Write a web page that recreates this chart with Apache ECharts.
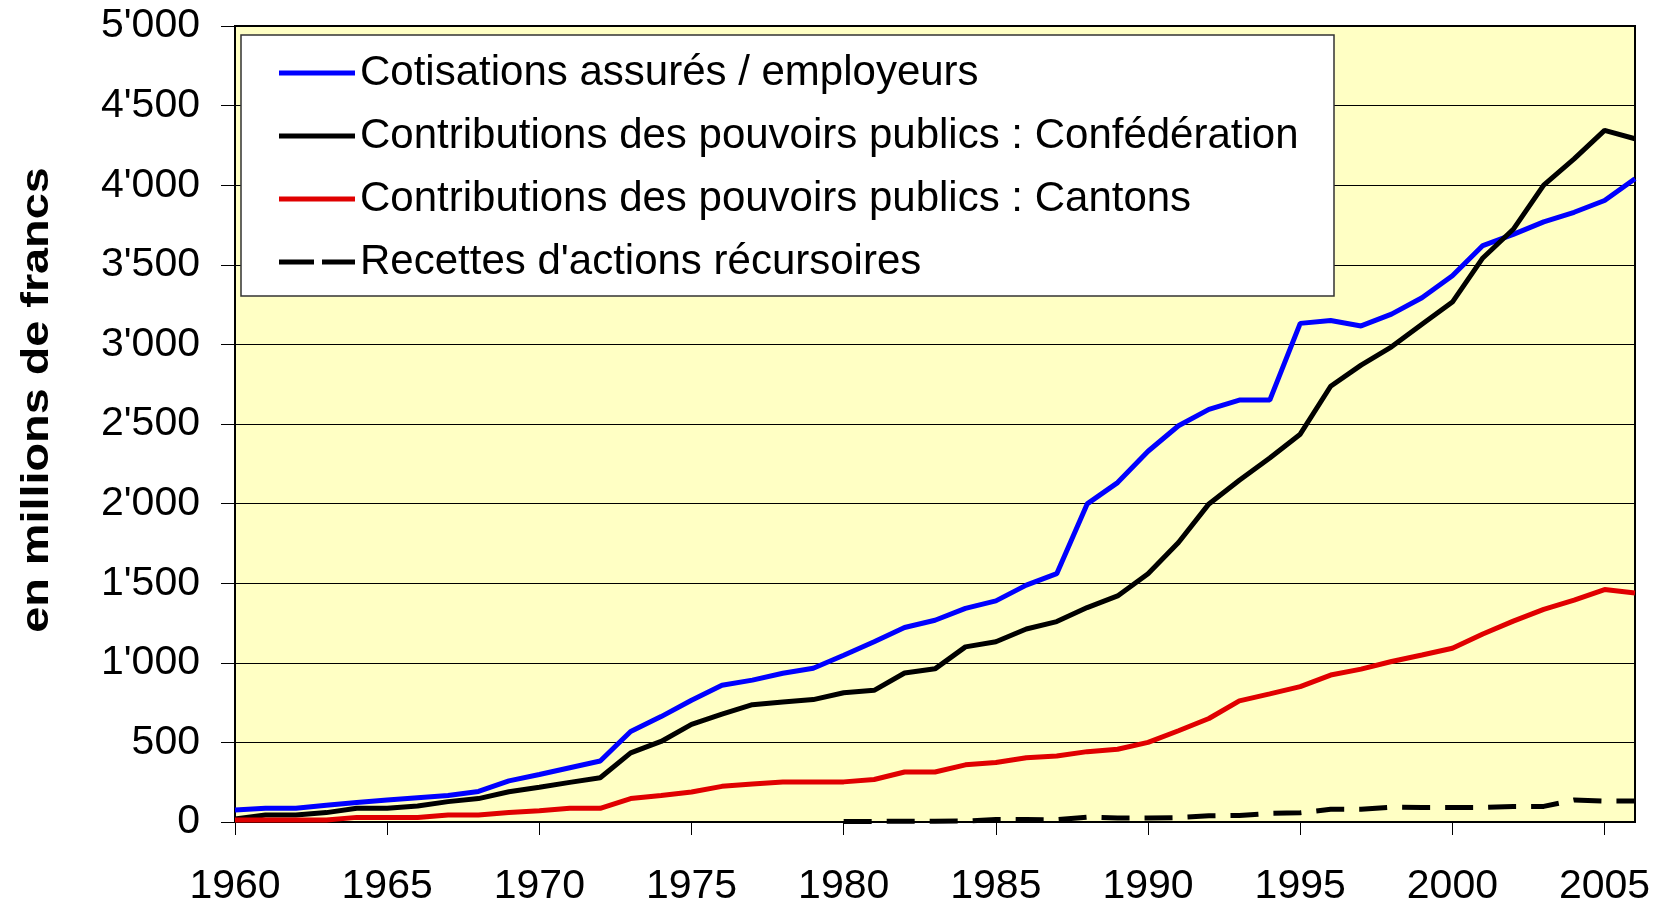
<!DOCTYPE html>
<html>
<head>
    <meta charset="utf-8">
    <title>Recettes</title>
    <script src="https://cdn.jsdelivr.net/npm/echarts@6/dist/echarts.min.js"></script>
    <style>
        html, body { margin: 0; padding: 0; background: #fff; }
        #chart { width: 1658px; height: 909px; }
    </style>
</head>
<body>
<div id="chart"></div>
<script>
    const years = [];
    for (let y = 1960; y <= 2006; y++) years.push(String(y));

    // Cotisations assurés / employeurs
    const cotisations = [75, 86, 86, 105, 122, 138, 153, 167, 192, 258,
        298, 341, 383, 568, 662, 765, 859, 891, 934, 966,
        1047, 1132, 1222, 1267, 1342, 1389, 1488, 1560, 1998, 2132,
        2329, 2489, 2592, 2650, 2650, 3132, 3150, 3116, 3190, 3293,
        3431, 3621, 3691, 3770, 3830, 3904, 4041];
    // Contributions des pouvoirs publics : Confédération
    const confederation = [19, 44, 44, 59, 86, 86, 100, 128, 147, 190,
        218, 249, 278, 434, 506, 613, 677, 737, 754, 769,
        812, 827, 936, 962, 1100, 1132, 1212, 1259, 1347, 1420,
        1560, 1756, 1998, 2147, 2286, 2436, 2737, 2870, 2985, 3127,
        3266, 3543, 3723, 4000, 4165, 4344, 4292];
    // Contributions des pouvoirs publics : Cantons
    const cantons = [13, 13, 13, 13, 29, 29, 29, 44, 44, 59,
        71, 86, 86, 147, 167, 188, 224, 239, 252, 252,
        252, 267, 314, 314, 359, 374, 404, 414, 442, 457,
        500, 573, 650, 761, 805, 850, 923, 960, 1008, 1049,
        1091, 1181, 1262, 1336, 1394, 1460, 1438];
    // Recettes d'actions récursoires (à partir de 1980)
    const recettes = [null, null, null, null, null, null, null, null, null, null,
        null, null, null, null, null, null, null, null, null, null,
        3, 4, 4, 5, 6, 16, 15, 14, 30, 25,
        25, 28, 39, 41, 54, 58, 80, 80, 93, 91,
        91, 91, 98, 98, 138, 132, 132];

    const names = [
        'Cotisations assurés / employeurs',
        'Contributions des pouvoirs publics : Confédération',
        'Contributions des pouvoirs publics : Cantons',
        "Recettes d'actions récursoires"
    ];

    const font = '"Liberation Sans", Arial, sans-serif';
    const every5 = i => i % 5 === 0;
    const fmt = v => v >= 1000 ? Math.floor(v / 1000) + "'" + String(v % 1000).padStart(3, '0') : String(v);

    const solidIcon = 'path://M0,0H76V5H0Z';
    const dashIcon = 'path://M0,0H35V5H0ZM43,0H76V5H43Z';

    const line = (name, data, color, type) => ({
        name: name,
        type: 'line',
        data: data,
        symbol: 'none',
        connectNulls: false,
        lineStyle: { color: color, width: 5, type: type || 'solid' },
        itemStyle: { color: color },
        z: 2
    });

    const chart = echarts.init(document.getElementById('chart'));
    chart.setOption({
        animation: false,
        backgroundColor: '#fff',
        grid: {
            left: 235, right: 23, top: 26, bottom: 87,
            show: true,
            backgroundColor: '#FFFFC4',
            borderColor: '#000',
            borderWidth: 2
        },
        xAxis: {
            type: 'category',
            data: years,
            boundaryGap: false,
            axisLine: { lineStyle: { color: '#000', width: 2 } },
            axisTick: { show: true, interval: every5, length: 13, lineStyle: { color: '#000', width: 1 } },
            axisLabel: { interval: every5, margin: 44, fontSize: 41, fontFamily: font, color: '#000' },
            splitLine: { show: false }
        },
        yAxis: {
            type: 'value',
            min: 0, max: 5000, interval: 500,
            axisLine: { show: true, lineStyle: { color: '#000', width: 2 } },
            axisTick: { show: true, length: 14, lineStyle: { color: '#000', width: 1 } },
            axisLabel: { margin: 35, fontSize: 41, fontFamily: font, color: '#000', formatter: fmt },
            splitLine: { show: true, lineStyle: { color: '#000', width: 1 } }
        },
        legend: {
            orient: 'vertical',
            left: 279, top: 52,
            padding: 0,
            itemWidth: 76, itemHeight: 5,
            itemGap: 21,
            z: 5,
            data: [
                { name: names[0], icon: solidIcon },
                { name: names[1], icon: solidIcon },
                { name: names[2], icon: solidIcon },
                { name: names[3], icon: dashIcon }
            ],
            textStyle: { fontSize: 42, fontFamily: font, color: '#000', lineHeight: 42 }
        },
        graphic: [
            {
                type: 'rect', z: 4,
                shape: { x: 241, y: 35, width: 1093, height: 261 },
                style: { fill: '#fff', stroke: '#333', lineWidth: 1.5 }
            },
            {
                type: 'text', z: 4,
                x: 37, y: 400,
                rotation: Math.PI / 2,
                scaleX: 1.2,
                style: {
                    text: 'en millions de francs',
                    fontSize: 39, fontWeight: 'bold', fontFamily: font,
                    fill: '#000', align: 'center', verticalAlign: 'middle'
                }
            }
        ],
        series: [
            line(names[0], cotisations, '#0000FF'),
            line(names[1], confederation, '#000000'),
            line(names[2], cantons, '#E00000'),
            line(names[3], recettes, '#000000', [28, 15])
        ]
    });
</script>
</body>
</html>
